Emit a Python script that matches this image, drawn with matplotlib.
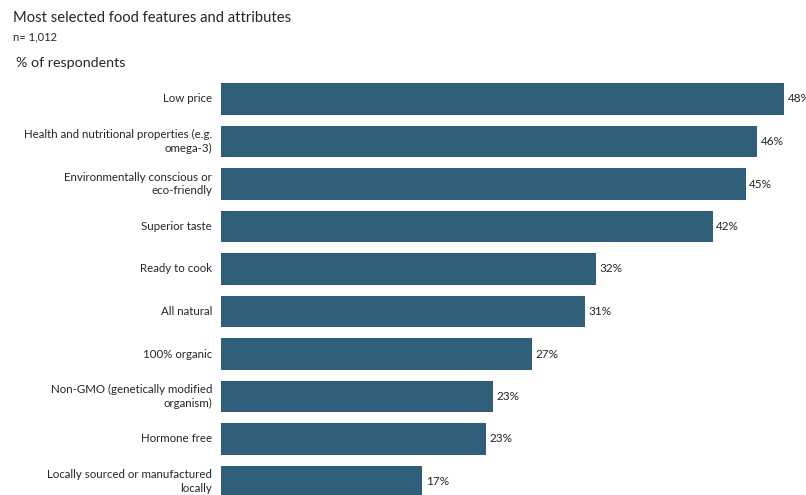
import matplotlib.pyplot as plt

features = ["Low price",
            "Health and nutritional properties (e.g.\nomega-3)",
            "Environmentally conscious or\neco-friendly",
            "Superior taste",
            "Ready to cook",
            "All natural",
            "100% organic",
            "Non-GMO (genetically modified\norganism)",
            "Hormone free",
            "Locally sourced or manufactured\nlocally"]
shares = [48.1, 45.8, 44.8, 42.0, 32.0, 31.1, 26.6, 23.2, 22.6, 17.2]
share_labels = ["48%", "46%", "45%", "42%", "32%", "31%", "27%", "23%", "23%", "17%"]

plt.rcParams['font.family'] = ['Lato', 'DejaVu Sans']
W, H = 806, 495
fig = plt.figure(figsize=(W / 100, H / 100), dpi=100)
fig.patch.set_facecolor('white')

# axes geometry in pixels (bars start at x=221, rows ~42.5px apart)
row = 42.5
top_px = 99 - row / 2
ax = fig.add_axes([221 / W, 0, 585.5 / W, (H - top_px) / H])
ax.barh(range(len(shares)), shares, height=0.75, color='#2f5f7a')
ax.set_xlim(0, 50)
ax.set_ylim((H - 99) / row, -0.5)
ax.axis('off')

txt = '#262626'
for i, (v, lab, name) in enumerate(zip(shares, share_labels, features)):
    ax.text(v + 0.3, i, lab, va='center', ha='left', fontsize=8.5, color=txt)
    ax.text(-0.75, i, name, va='center', ha='right', fontsize=8.3, color=txt,
            linespacing=1.3)

fig.text(13 / W, 1 - 18 / H, "Most selected food features and attributes",
         fontsize=10.6, color=txt, va='center')
fig.text(13 / W, 1 - 37 / H, "n= 1,012", fontsize=8, color=txt, va='center')
fig.text(16 / W, 1 - 63 / H, "% of respondents", fontsize=10.3, color=txt, va='center')

fig.savefig('out.png', dpi=100)
